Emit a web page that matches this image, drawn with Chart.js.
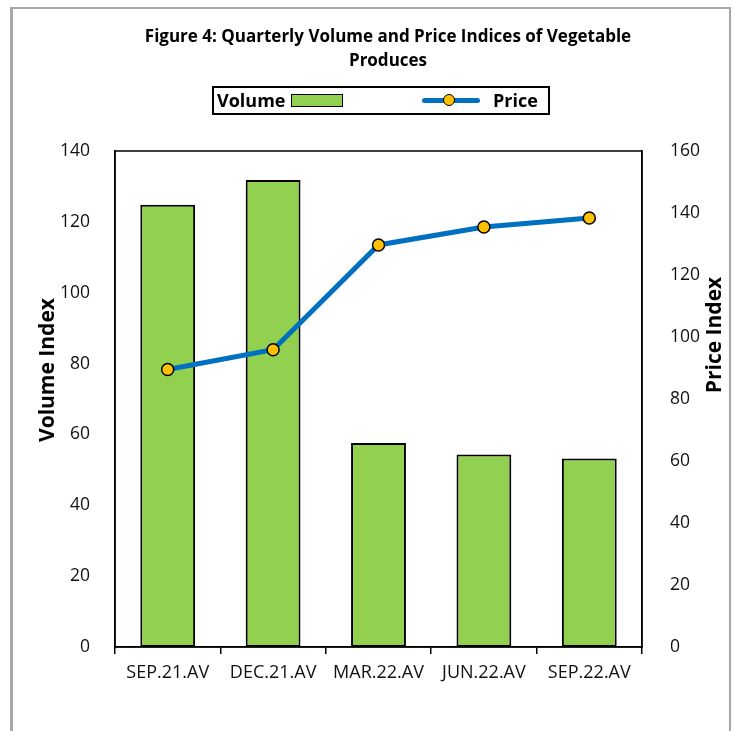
<!DOCTYPE html>
<html>
<head>
<meta charset="utf-8">
<script src="https://cdn.jsdelivr.net/npm/chart.js@4"></script>
<style>
  body { margin: 0; background: #fff; font-family: "Open Sans", sans-serif; }
  #wrap { position: relative; width: 735px; height: 731px; overflow: hidden; }
  #grafico { position: absolute; left: 0; top: 0; }
  .frame { position: absolute; left: 10px; top: 7px; width: 716px; height: 760px;
           border: 2px solid #a8a8a8; border-left-width: 3px; pointer-events: none; }
  .title { position: absolute; left: 38px; width: 700px; top: 24px; text-align: center;
           font-weight: bold; font-size: 17px; line-height: 24px; color: #000; }
  .legend { position: absolute; left: 212px; top: 86px; width: 334px; height: 25px;
            border: 2px solid #000; font-weight: bold; font-size: 18px; }
  .legend span { position: absolute; top: 0px; line-height: 25px; }
  .sw-bar { position: absolute; left: 77px; top: 6px; width: 50px; height: 11px;
            background: #92D050; border: 1.5px solid #000; }
  .sw-line { position: absolute; left: 208px; top: 10px; width: 58px; height: 5px;
             background: #0070C0; border-radius: 3px; }
  .sw-dot { position: absolute; left: 229px; top: 6px; width: 10px; height: 10px;
            background: #FFC000; border: 1.5px solid #000; border-radius: 50%; }
  .ytitle { position: absolute; font-weight: bold; font-size: 21px; white-space: nowrap;
            transform: translate(-50%, -50%) rotate(-90deg); }
</style>
</head>
<body>
<div id="wrap">
  <canvas id="grafico" width="735" height="731"></canvas>
  <div class="title">Figure 4: Quarterly Volume and Price Indices of Vegetable<br>Produces</div>
  <div class="legend">
    <span style="left:3px">Volume</span>
    <div class="sw-bar"></div>
    <div class="sw-line"></div>
    <div class="sw-dot"></div>
    <span style="left:279px">Price</span>
  </div>
  <div class="ytitle" style="left:46px; top:370px">Volume Index</div>
  <div class="ytitle" style="left:713px; top:335px">Price Index</div>
  <div class="frame"></div>
</div>
<script>
// categorias e séries
var trimestres = ['SEP.21.AV', 'DEC.21.AV', 'MAR.22.AV', 'JUN.22.AV', 'SEP.22.AV'];
var volume = [124.8, 131.8, 57.6, 54.3, 53.2];
var preco = [89.5, 95.9, 129.7, 135.5, 138.4];

// limites dos eixos
var volMax = 140, volStep = 20;
var precoMax = 160, precoStep = 20;

// moldura da área do gráfico
var caixa = {
    id: 'caixa',
    afterDatasetsDraw: function (chart) {
        var a = chart.chartArea, ctx = chart.ctx;
        ctx.save();
        ctx.strokeStyle = '#000';
        ctx.lineWidth = 1.5;
        ctx.strokeRect(a.left, a.top, a.right - a.left, a.bottom - a.top);
        ctx.restore();
    }
};

var ctx = document.querySelector('#grafico').getContext('2d');
var grafico = new Chart(ctx, {
    data: {
        labels: trimestres,
        datasets: [{
            type: 'line',
            label: 'Price',
            data: preco,
            yAxisID: 'y2',
            order: 0,
            borderColor: '#0070C0',
            borderWidth: 5,
            tension: 0,
            pointRadius: 6,
            pointBackgroundColor: '#FFC000',
            pointBorderColor: '#000',
            pointBorderWidth: 1.5
        },
        {
            type: 'bar',
            label: 'Volume',
            data: volume,
            yAxisID: 'y',
            order: 1,
            backgroundColor: '#92D050',
            borderColor: '#000',
            borderWidth: 2,
            borderSkipped: false,
            barPercentage: 0.52,
            categoryPercentage: 1
        }]
    },
    options: {
        responsive: false,
        animation: false,
        layout: { padding: { top: 151, left: 0, right: 0, bottom: 0 } },
        plugins: {
            legend: { display: false },
            title: { display: false },
            tooltip: { enabled: false }
        },
        scales: {
            x: {
                offset: true,
                grid: { display: true, drawOnChartArea: false, color: '#000', tickLength: 7, lineWidth: 1.5 },
                border: { color: '#000', width: 1.5 },
                ticks: { color: '#111', padding: 8, font: { family: 'Open Sans', size: 18 } },
                afterFit: function (s) { s.height = 84; }
            },
            y: {
                position: 'left',
                min: 0, max: volMax,
                ticks: { stepSize: volStep, color: '#111', padding: 17, font: { family: 'Open Sans', size: 17.5 } },
                grid: { display: false },
                border: { color: '#000', width: 1.5 },
                afterFit: function (s) { s.width = 115; }
            },
            y2: {
                position: 'right',
                min: 0, max: precoMax,
                ticks: { stepSize: precoStep, color: '#111', padding: 20, font: { family: 'Open Sans', size: 17.5 } },
                grid: { display: false },
                border: { color: '#000', width: 1.5 },
                afterFit: function (s) { s.width = 93; }
            }
        }
    },
    plugins: [caixa]
});
</script>
</body>
</html>
